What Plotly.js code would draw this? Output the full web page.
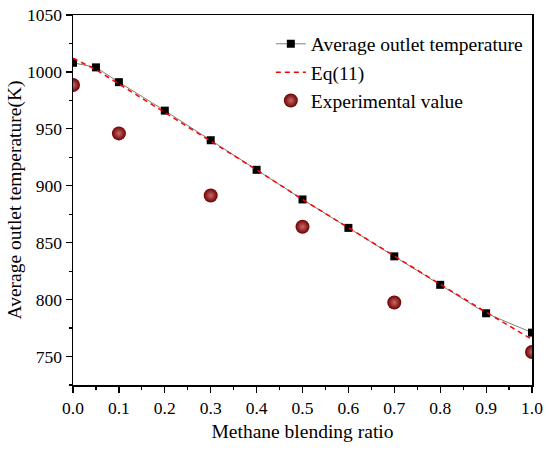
<!DOCTYPE html>
<html><head><meta charset="utf-8">
<script src="https://cdn.plot.ly/plotly-3.0.1.min.js"></script>
<style>html,body{margin:0;padding:0;background:#fff}#chart{width:550px;height:452px}</style>
</head><body><div id="chart"></div>
<script>
var simX = [0, 0.05, 0.1, 0.2, 0.3, 0.4, 0.5, 0.6, 0.7, 0.8, 0.9, 1.0];
var simY = [1008, 1004, 991, 966, 940, 914, 888, 863, 838, 813, 788, 771];
var eqX = [0, 0.05, 0.1, 0.2, 0.3, 0.4, 0.5, 0.6, 0.7, 0.8, 0.9, 0.95, 1.0];
var eqY = [1012, 1002, 989.5, 964.5, 939.5, 914, 888, 863, 838.5, 813.5, 789, 777, 765];
var expX = [0, 0.1, 0.3, 0.5, 0.7, 1.0];
var expY = [988.5, 946, 891.5, 864, 797.5, 754];

var font = "'Liberation Serif', 'Times New Roman', serif";
var traces = [
  {x: simX, y: simY, name: 'Average outlet temperature', mode: 'lines+markers',
   line: {color: '#808080', width: 1},
   marker: {symbol: 'square', size: 8, color: '#000'}},
  {x: eqX, y: eqY, name: 'Eq(11)', mode: 'lines',
   line: {color: '#ff0000', width: 1.5, dash: '5px,4px'}},
  {x: expX, y: expY, name: 'Experimental value', mode: 'markers',
   marker: {symbol: 'circle', size: 14, color: '#6e0000',
            gradient: {type: 'radial', color: '#c86a6a'}}}
];
var layout = {
  width: 550, height: 452,
  margin: {l: 73, r: 18, t: 15, b: 67},
  paper_bgcolor: '#fff', plot_bgcolor: '#fff',
  font: {family: font, size: 17.5, color: '#000'},
  showlegend: true,
  legend: {x: 0.431, y: 0.974, xanchor: 'left', yanchor: 'top',
           bgcolor: 'rgba(0,0,0,0)', font: {family: font, size: 19.5},
           tracegroupgap: 0, itemwidth: 30},
  xaxis: {range: [0, 1.0], dtick: 0.1, tick0: 0, tickformat: '.1f',
          ticks: 'outside', ticklen: 6, tickwidth: 1.2, tickcolor: '#000',
          showline: true, linecolor: '#000', linewidth: 1.5, mirror: true,
          showgrid: false, zeroline: false,
          minor: {dtick: 0.05, ticks: 'outside', ticklen: 3, tickcolor: '#000', showgrid: false},
          title: {text: 'Methane blending ratio', font: {family: font, size: 19.5}, standoff: 8}},
  yaxis: {range: [725, 1050], dtick: 50, tick0: 750,
          ticks: 'outside', ticklen: 6, tickwidth: 1.2, tickcolor: '#000',
          showline: true, linecolor: '#000', linewidth: 1.5, mirror: true,
          showgrid: false, zeroline: false,
          minor: {dtick: 25, ticks: 'outside', ticklen: 3, tickcolor: '#000', showgrid: false},
          title: {text: 'Average outlet temperature(K)', font: {family: font, size: 19.5}, standoff: 0}}
};
Plotly.newPlot('chart', traces, layout, {displayModeBar: false, staticPlot: true});
</script>
</body></html>
